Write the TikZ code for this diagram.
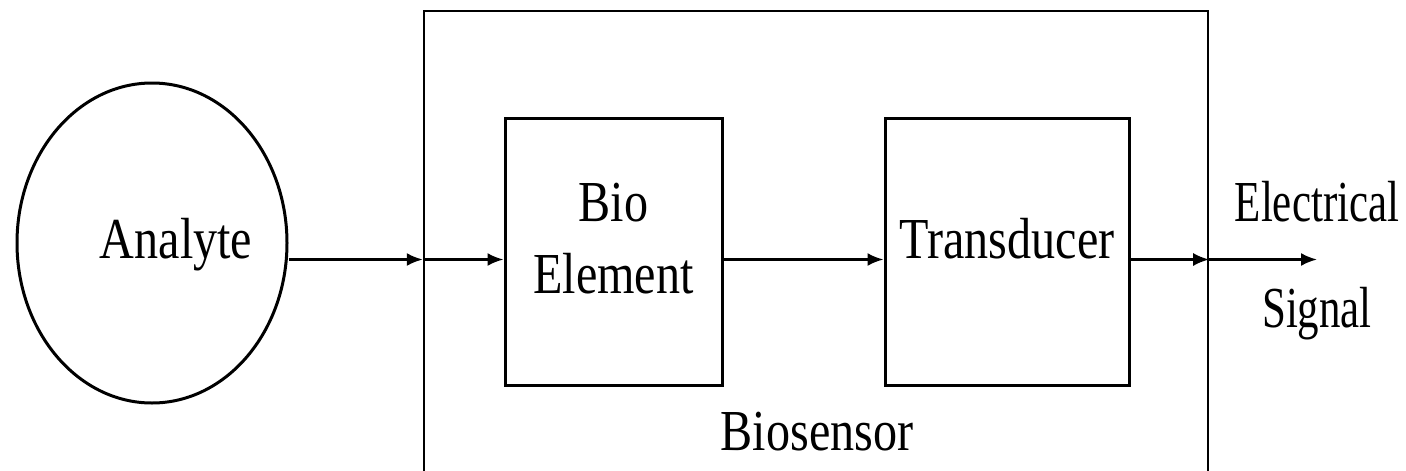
\documentclass[tikz,border=0pt]{standalone}
\usepackage{fontspec}
\setmainfont{Liberation Serif}[FakeStretch=0.83]
\newfontfamily\narrowserif{Liberation Serif}[FakeStretch=0.74]
\usepackage{tikz}
\usetikzlibrary{positioning}
\usetikzlibrary{shapes.geometric}
\usetikzlibrary{arrows.meta}

\tikzset{
    blockbox/.style={draw, rectangle, line width=3pt, minimum width=217pt, minimum height=267pt, inner sep=0pt},
    blocktext/.style={font=\fontsize{58}{72}\selectfont, align=center, inner sep=0pt},
    sidetext/.style={font=\narrowserif\fontsize{58}{72}\selectfont, inner sep=0pt},
    flow/.style={line width=2.4pt, -{Latex[length=16pt,width=13pt]}},
}

\begin{document}
\begin{tikzpicture}[x=1pt, y=-1pt]
    \path[use as bounding box, clip] (0,0) rectangle (1406,471);

    \node [ellipse, draw, line width=3pt, minimum width=270pt, minimum height=320pt, inner sep=0pt] (analyte) at (152,243) {};
    \node [blocktext, anchor=base] (analytelabel) at (176,258) {Analyte};

    \node [draw, line width=2.4pt, minimum width=784pt, minimum height=480pt, inner sep=0pt] (biosensor) at (816,251) {};
    \node [blocktext, anchor=base] (biosensorlabel) at (817,450) {Biosensor};

    \node [blockbox, label={[blocktext, yshift=13pt]center:Bio\\Element}] (bio) at (613.5,251.5) {};
    \node [blockbox, minimum width=244pt, right=160pt of bio, label={[blocktext, yshift=13pt]center:Transducer}] (transducer) {};

    \coordinate (axis) at (0,259.5);
    \coordinate (output) at (1317,259.5);

    \node [sidetext, above=37pt of output] (electrical) {Electrical};
    \node [sidetext, below=28pt of output] (signal) {Signal};

    \draw [flow] (analyte.east |- axis) -- (biosensor.west |- axis);
    \draw [flow] (biosensor.west |- axis) -- (bio.west |- axis);
    \draw [flow] (bio.east |- axis) -- (transducer.west |- axis);
    \draw [flow] (transducer.east |- axis) -- (biosensor.east |- axis);
    \draw [flow] (biosensor.east |- axis) -- (output);

\end{tikzpicture}
\end{document}
